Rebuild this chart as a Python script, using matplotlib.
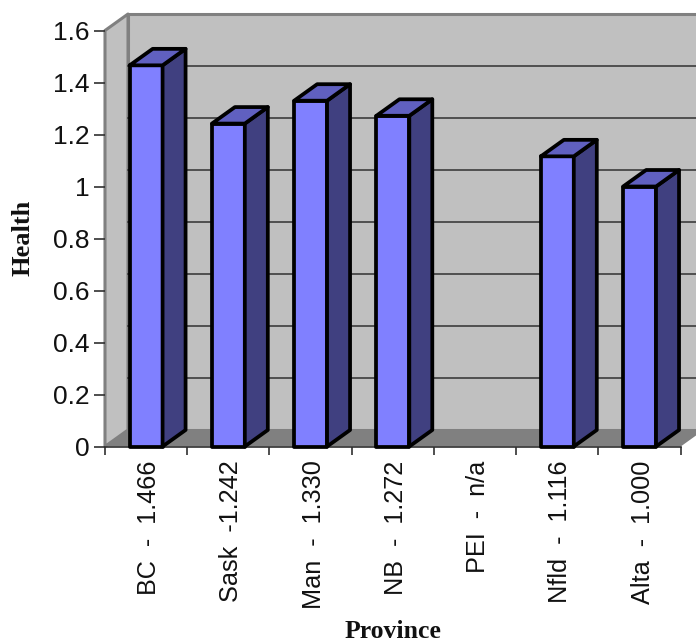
# 3D-style column chart of the provincial health index
import numpy as np
import matplotlib.pyplot as plt
from matplotlib.patches import Polygon

provinces = ['BC  -  1.466', 'Sask  -1.242', 'Man  -  1.330', 'NB  -  1.272',
             'PEI  -  n/a', 'Nfld  -  1.116', 'Alta  -  1.000']
health = [1.466, 1.242, 1.330, 1.272, np.nan, 1.116, 1.000]
y_ticks = [0, 0.2, 0.4, 0.6, 0.8, 1, 1.2, 1.4, 1.6]
y_labels = ['0', '0.2', '0.4', '0.6', '0.8', '1', '1.2', '1.4', '1.6']

W, H = 696, 642
LEFT, RIGHT, ZERO, TOP = 105, 680.7, 446.5, 30.5

# extrusion depth of the box, in data units
DX = 23 / ((RIGHT - LEFT) / 7)
DY = 16.5 / ((ZERO - TOP) / 1.6)
BAR = 0.40

WALL = '#c0c0c0'
EDGE = '#808080'
FRONT = '#8080ff'
TOPFACE = '#6060c0'
SIDE = '#404080'

fig = plt.figure(figsize=(W / 100, H / 100), dpi=100)
ax = fig.add_axes([LEFT / W, 1 - ZERO / H, (RIGHT - LEFT) / W, (ZERO - TOP) / H])
ax.set_xlim(0, 7)
ax.set_ylim(0, 1.6)
ax.patch.set_visible(False)


def face(pts, fc, ec, lw, z):
    ax.add_patch(Polygon(pts, closed=True, facecolor=fc, edgecolor=ec, linewidth=lw,
                         joinstyle='round', clip_on=False, zorder=z))


# back wall, side wall and floor
face([(DX, DY), (7 + DX, DY), (7 + DX, 1.6 + DY), (DX, 1.6 + DY)], WALL, EDGE, 2.2, 1)
face([(0, 0), (DX, DY), (DX, 1.6 + DY), (0, 1.6)], WALL, EDGE, 2.2, 1.2)
face([(0, 0), (7, 0), (7 + DX, DY), (DX, DY)], EDGE, 'none', 0, 1.4)

for v in y_ticks[1:-1]:
    ax.plot([DX, 7 + DX], [v + DY, v + DY], color='#3c3c3c', lw=1.2, clip_on=False, zorder=1.6)

# columns
for i, v in enumerate(health):
    if np.isnan(v):
        continue
    x0 = i + (1 - BAR) / 2
    x1 = x0 + BAR
    face([(x0, 0), (x1, 0), (x1, v), (x0, v)], FRONT, 'black', 2.7, 3)
    face([(x1, 0), (x1 + DX, DY), (x1 + DX, v + DY), (x1, v)], SIDE, 'black', 2.7, 3)
    face([(x0, v), (x1, v), (x1 + DX, v + DY), (x0 + DX, v + DY)], TOPFACE, 'black', 2.7, 3)

for side in ['top', 'right']:
    ax.spines[side].set_visible(False)
ax.spines['left'].set_visible(False)
ax.spines['bottom'].set_color('#303030')
ax.spines['bottom'].set_linewidth(1.2)
ax.spines['bottom'].set_zorder(2)

ax.set_xticks(range(8))
ax.set_xticklabels([])
ax.set_yticks(y_ticks)
ax.set_yticklabels(y_labels, fontname='Liberation Sans', fontsize=19, color='#111111')
ax.tick_params(axis='y', length=8, width=1.2, color='#303030', pad=3)
ax.tick_params(axis='x', length=6, width=1.2, color='#303030')

# labels sit under the centre of each category
for i, name in enumerate(provinces):
    ax.annotate(name, (i + 0.5, 0), xytext=(2.2, -10), textcoords='offset points',
                rotation=90, ha='center', va='top', fontname='Liberation Sans',
                fontsize=18.2, color='#111111', annotation_clip=False)

fig.text(393 / W, 1 - 638 / H, 'Province', fontname='Liberation Serif', fontweight='bold',
         fontsize=18.5, ha='center', va='baseline', color='#111111')
fig.text(23 / W, 1 - 238 / H, 'Health', fontname='Liberation Serif', fontweight='bold',
         fontsize=19, rotation=90, ha='center', va='center', color='#111111')

fig.savefig('out.png', dpi=100)
